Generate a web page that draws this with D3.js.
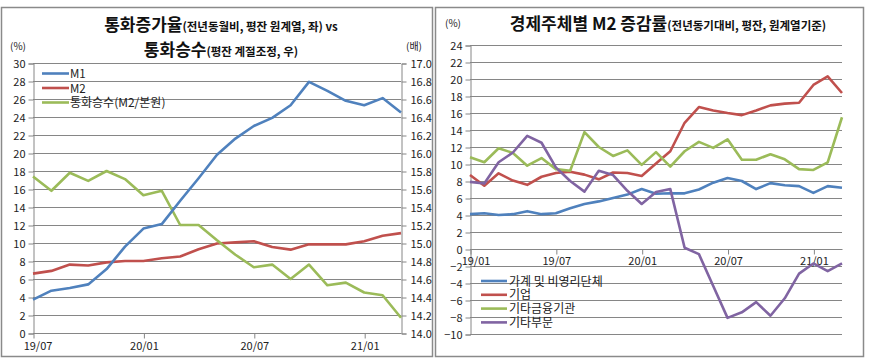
<!DOCTYPE html>
<html><head><meta charset="utf-8">
<script src="https://cdn.jsdelivr.net/npm/d3@7/dist/d3.min.js"></script>
<style>
body{margin:0;background:#fff;}
svg{display:block;font-family:"Noto Sans CJK KR","Noto Sans",sans-serif;}
</style></head>
<body><svg id="c" width="869" height="362"></svg>
<script>
// ---- Left chart data ----
const monthsL = ["19/07","19/08","19/09","19/10","19/11","19/12","20/01","20/02","20/03","20/04","20/05","20/06","20/07","20/08","20/09","20/10","20/11","20/12","21/01","21/02","21/03"];
const tickLabelsL = ["19/07","20/01","20/07","21/01"];
const m1 = [3.7,4.7,5.0,5.4,7.1,9.6,11.6,12.1,14.7,17.2,19.8,21.6,23.0,23.9,25.3,27.9,26.9,25.8,25.3,26.1,24.5];
const m2 = [6.6,6.9,7.6,7.5,7.85,8.0,8.0,8.3,8.5,9.3,9.95,10.07,10.2,9.55,9.26,9.85,9.85,9.85,10.2,10.8,11.1];
const multiplier = [15.74,15.58,15.78,15.69,15.80,15.71,15.53,15.58,15.2,15.2,15.03,14.87,14.73,14.76,14.6,14.76,14.53,14.56,14.45,14.42,14.17];
const leftTicks = d3.range(0,31,2);
const rightTicks = d3.range(14,17.01,0.2);

// ---- Right chart data ----
const monthsR = ["19/01","19/02","19/03","19/04","19/05","19/06","19/07","19/08","19/09","19/10","19/11","19/12","20/01","20/02","20/03","20/04","20/05","20/06","20/07","20/08","20/09","20/10","20/11","20/12","21/01","21/02","21/03"];
const tickLabelsR = ["19/01","19/07","20/01","20/07","21/01"];
const household = [4.1,4.2,4.0,4.1,4.45,4.1,4.2,4.8,5.3,5.6,6.0,6.4,7.05,6.5,6.55,6.55,7.0,7.8,8.35,8.0,7.05,7.75,7.5,7.4,6.6,7.4,7.2];
const corp = [8.7,7.45,8.9,8.05,7.55,8.5,8.95,9.1,8.75,8.2,9.0,8.95,8.6,10.05,11.5,14.85,16.7,16.3,16.0,15.75,16.3,16.9,17.1,17.2,19.3,20.3,18.35];
const otherFin = [10.8,10.2,11.85,11.3,9.8,10.7,9.4,9.2,13.75,12.0,10.95,11.6,9.9,11.4,9.7,11.5,12.6,11.9,12.9,10.5,10.5,11.15,10.55,9.4,9.3,10.2,15.5];
const otherSec = [7.9,7.7,10.2,11.35,13.3,12.5,9.6,8.0,6.75,9.2,8.7,6.85,5.3,6.7,7.05,0.15,-0.6,-4.35,-8.1,-7.45,-6.25,-7.85,-5.8,-2.9,-1.7,-2.6,-1.7];
const rTicks = d3.range(-10,25,2);

const colors = {blue:"#4F81BD", red:"#C0504D", green:"#9BBB59", purple:"#8064A2"};
const gridColor = "#868686";
const svg = d3.select("#c");

// panels
svg.append("rect").attr("x",1.5).attr("y",7.5).attr("width",431).attr("height",349).attr("fill","#fff").attr("stroke","#8a8a8a").attr("stroke-width",1.5);
svg.append("rect").attr("x",435.5).attr("y",7.5).attr("width",428).attr("height",349).attr("fill","#fff").attr("stroke","#8a8a8a").attr("stroke-width",1.5);

// ================= LEFT ==================
(function(){
  const g = svg.append("g");
  const x = d3.scalePoint().domain(monthsL).range([33,401]);
  const yL = d3.scaleLinear().domain([0,30]).range([333,63]);
  const yR = d3.scaleLinear().domain([14,17]).range([333,63]);
  // gridlines
  g.selectAll(".gl").data(leftTicks).join("line")
    .attr("x1",33).attr("x2",401).attr("y1",d=>yL(d)+0.5).attr("y2",d=>yL(d)+0.5)
    .attr("stroke",gridColor).attr("stroke-width",1);
  // left axis
  const aL = g.append("g").attr("transform","translate(33.5,0.5)").call(d3.axisLeft(yL).tickValues(leftTicks).tickSize(5).tickPadding(3).tickFormat(d3.format("d")));
  // right axis
  const aR = g.append("g").attr("transform","translate(401.5,0.5)").call(d3.axisRight(yR).tickValues(rightTicks).tickSize(5).tickPadding(4).tickFormat(d3.format(".1f")));
  // bottom axis
  const aB = g.append("g").attr("transform","translate(0.5,333.5)").call(d3.axisBottom(x).tickValues(tickLabelsL).tickSize(5).tickPadding(4));
  [aL,aR,aB].forEach(a=>{
    a.selectAll("path").attr("stroke",gridColor);
    a.selectAll("line").attr("stroke",gridColor);
    a.selectAll("text").attr("fill","#222").style("font-size","11px").style("font-family","'Noto Sans CJK KR',sans-serif");
  });
  aB.select(".domain").attr("d","M33,0H401");
  aB.selectAll(".tick").filter(d=>d==="19/07").select("text").attr("dx",4);

  const line = (ys) => d3.line().x((d,i)=>x(monthsL[i])).y(d=>ys(d));
  g.append("path").datum(m2).attr("d",line(yL)).attr("fill","none").attr("stroke",colors.red).attr("stroke-width",2.6).attr("stroke-linejoin","round");
  g.append("path").datum(multiplier).attr("d",line(yR)).attr("fill","none").attr("stroke",colors.green).attr("stroke-width",2.6).attr("stroke-linejoin","round");
  g.append("path").datum(m1).attr("d",line(yL)).attr("fill","none").attr("stroke",colors.blue).attr("stroke-width",2.6).attr("stroke-linejoin","round");

  // titles
  const t1 = g.append("text").attr("x",221).attr("y",31).attr("text-anchor","middle").attr("fill","#111");
  t1.append("tspan").text("통화증가율").style("font-size","17px").style("font-weight","bold");
  t1.append("tspan").text("(전년동월비, 평잔 원계열, 좌) vs").style("font-size","11.5px").style("font-weight","bold");
  const t2 = g.append("text").attr("x",221).attr("y",56).attr("text-anchor","middle").attr("fill","#111");
  t2.append("tspan").text("통화승수").style("font-size","17px").style("font-weight","bold");
  t2.append("tspan").text("(평잔 계절조정, 우)").style("font-size","11.5px").style("font-weight","bold");
  g.append("text").attr("x",18).attr("y",50).attr("text-anchor","middle").style("font-size","10px").attr("fill","#222").text("(%)");
  g.append("text").attr("x",414).attr("y",50).attr("text-anchor","middle").style("font-size","10px").attr("fill","#222").text("(배)");

  // legend
  const leg = [["M1",colors.blue],["M2",colors.red],["통화승수(M2/본원)",colors.green]];
  leg.forEach((d,i)=>{
    const yy = 73.5 + i*14.5;
    g.append("line").attr("x1",42).attr("x2",69).attr("y1",yy).attr("y2",yy).attr("stroke",d[1]).attr("stroke-width",2.6);
    g.append("text").attr("x",70).attr("y",yy+4.5).style("font-size",i==2?"12px":"11.5px").attr("fill","#222").text(d[0]);
  });
})();

// ================= RIGHT ==================
(function(){
  const g = svg.append("g");
  const x = d3.scalePoint().domain(monthsR).range([470,842]);
  const y = d3.scaleLinear().domain([-10,24]).range([334,45]);
  g.selectAll(".gl").data(rTicks).join("line")
    .attr("x1",470).attr("x2",842).attr("y1",d=>Math.round(y(d))+0.5).attr("y2",d=>Math.round(y(d))+0.5)
    .attr("stroke",gridColor).attr("stroke-width",1);
  const aL = g.append("g").attr("transform","translate(470.5,0.5)").call(d3.axisLeft(y).tickValues(rTicks).tickSize(5).tickPadding(3).tickFormat(d3.format("d")));
  const aB = g.append("g").attr("transform",`translate(0.5,${Math.round(y(0))+0.5})`).call(d3.axisBottom(x).tickValues(tickLabelsR).tickSize(5).tickPadding(3));
  [aL,aB].forEach(a=>{
    a.selectAll("path").attr("stroke",gridColor);
    a.selectAll("line").attr("stroke",gridColor);
    a.selectAll("text").attr("fill","#222").style("font-size","11px").style("font-family","'Noto Sans CJK KR',sans-serif");
  });
  aB.select(".domain").attr("d","M470,0H842");
  aB.selectAll(".tick").filter(d=>d==="19/01").select("text").attr("dx",5);

  const line = d3.line().x((d,i)=>x(monthsR[i])).y(d=>y(d));
  [[household,colors.blue],[corp,colors.red],[otherFin,colors.green],[otherSec,colors.purple]].forEach(s=>{
    g.append("path").datum(s[0]).attr("d",line).attr("fill","none").attr("stroke",s[1]).attr("stroke-width",2.6).attr("stroke-linejoin","round");
  });

  const t = g.append("text").attr("x",668).attr("y",30).attr("text-anchor","middle").attr("fill","#111");
  t.append("tspan").text("경제주체별 M2 증감률").style("font-size","17px").style("font-weight","bold");
  t.append("tspan").text("(전년동기대비, 평잔, 원계열기준)").style("font-size","11.5px").style("font-weight","bold");
  g.append("text").attr("x",453).attr("y",27).attr("text-anchor","middle").style("font-size","10px").attr("fill","#222").text("(%)");

  const leg = [["가계 및 비영리단체",colors.blue],["기업",colors.red],["기타금융기관",colors.green],["기타부문",colors.purple]];
  leg.forEach((d,i)=>{
    const yy = 281 + i*13.8;
    g.append("line").attr("x1",481).attr("x2",507).attr("y1",yy).attr("y2",yy).attr("stroke",d[1]).attr("stroke-width",2.6);
    g.append("text").attr("x",509).attr("y",yy+4.5).style("font-size","12px").attr("fill","#222").text(d[0]);
  });
})();
</script>
</body></html>
